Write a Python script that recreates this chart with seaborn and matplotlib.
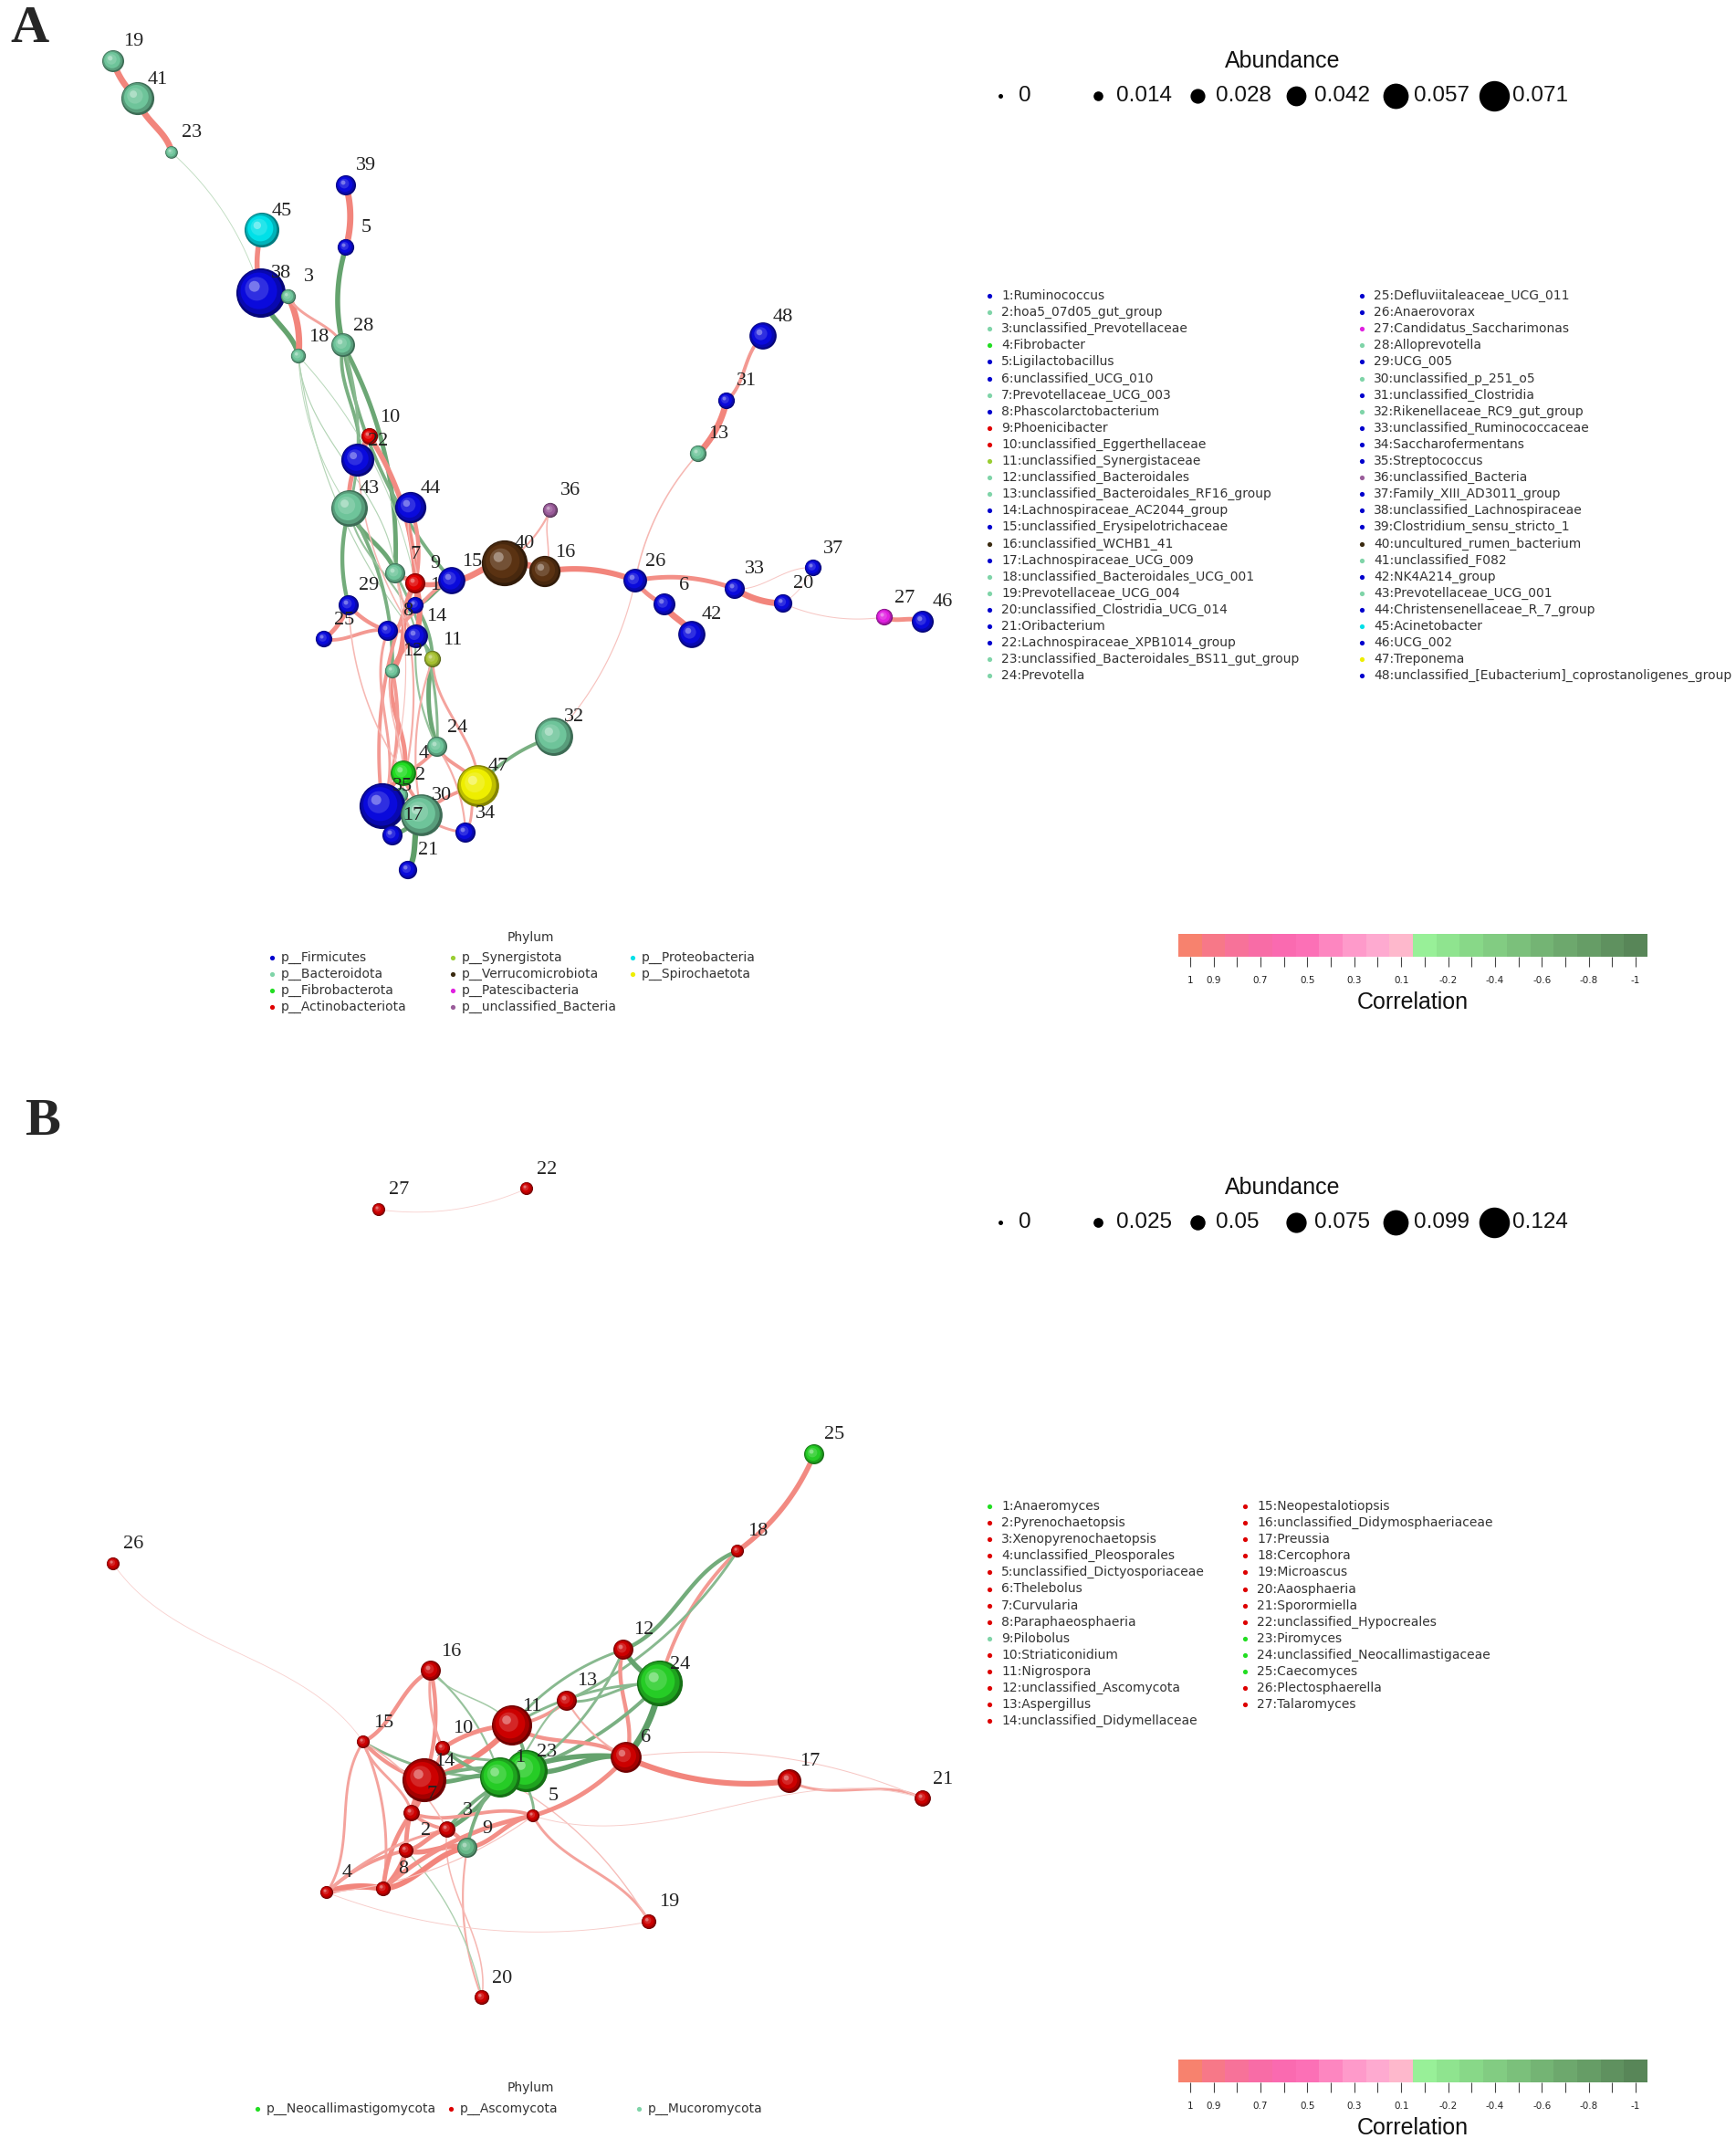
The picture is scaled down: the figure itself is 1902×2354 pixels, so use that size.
import numpy as np
import pandas as pd
import matplotlib
matplotlib.use("Agg")
import matplotlib.pyplot as plt
import seaborn as sns
from matplotlib import font_manager
from matplotlib.colors import ListedColormap, to_rgb

# ========== PANEL A : BACTERIA ==========
a_x = [455, 439, 316, 442, 379, 728, 433, 425, 455, 405, 474, 430, 765, 456, 495, 597, 430, 327, 124, 858,
       447, 392, 188, 479, 355, 696, 969, 376, 382, 462, 796, 607, 805, 510, 419, 603, 891, 286, 379, 553,
       151, 758, 383, 450, 287, 1011, 524, 836]
a_y = [663, 871, 325, 847, 271, 662, 628, 691, 639, 478, 722, 735, 497, 697, 636, 626, 915, 390, 67, 661,
       953, 504, 167, 818, 700, 636, 676, 378, 663, 893, 439, 807, 645, 912, 883, 559, 622, 321, 203, 617,
       108, 695, 557, 556, 252, 681, 861, 368]
a_abund = [0.016, 0.013, 0.013, 0.031, 0.016, 0.025, 0.022, 0.022, 0.022, 0.016, 0.016, 0.013, 0.016, 0.028,
           0.034, 0.041, 0.022, 0.013, 0.025, 0.019, 0.019, 0.044, 0.009, 0.022, 0.016, 0.028, 0.016, 0.028,
           0.022, 0.059, 0.016, 0.053, 0.022, 0.022, 0.066, 0.013, 0.016, 0.072, 0.022, 0.066, 0.044, 0.034,
           0.050, 0.041, 0.047, 0.025, 0.059, 0.034]
a_phylum = ['Fi', 'Ba', 'Ba', 'Fb', 'Fi', 'Fi', 'Ba', 'Fi', 'Ac', 'Ac', 'Sy', 'Ba', 'Ba', 'Fi', 'Fi', 'Ve',
            'Fi', 'Ba', 'Ba', 'Fi', 'Fi', 'Fi', 'Ba', 'Ba', 'Fi', 'Fi', 'Pa', 'Ba', 'Fi', 'Ba', 'Fi', 'Ba',
            'Fi', 'Fi', 'Fi', 'Ub', 'Fi', 'Fi', 'Fi', 'Ve', 'Ba', 'Fi', 'Ba', 'Fi', 'Pr', 'Fi', 'Sp', 'Fi']
a_taxa = ['Ruminococcus', 'hoa5_07d05_gut_group', 'unclassified_Prevotellaceae', 'Fibrobacter',
          'Ligilactobacillus', 'unclassified_UCG_010', 'Prevotellaceae_UCG_003', 'Phascolarctobacterium',
          'Phoenicibacter', 'unclassified_Eggerthellaceae', 'unclassified_Synergistaceae',
          'unclassified_Bacteroidales', 'unclassified_Bacteroidales_RF16_group', 'Lachnospiraceae_AC2044_group',
          'unclassified_Erysipelotrichaceae', 'unclassified_WCHB1_41', 'Lachnospiraceae_UCG_009',
          'unclassified_Bacteroidales_UCG_001', 'Prevotellaceae_UCG_004', 'unclassified_Clostridia_UCG_014',
          'Oribacterium', 'Lachnospiraceae_XPB1014_group', 'unclassified_Bacteroidales_BS11_gut_group',
          'Prevotella', 'Defluviitaleaceae_UCG_011', 'Anaerovorax', 'Candidatus_Saccharimonas',
          'Alloprevotella', 'UCG_005', 'unclassified_p_251_o5', 'unclassified_Clostridia',
          'Rikenellaceae_RC9_gut_group', 'unclassified_Ruminococcaceae', 'Saccharofermentans',
          'Streptococcus', 'unclassified_Bacteria', 'Family_XIII_AD3011_group', 'unclassified_Lachnospiraceae',
          'Clostridium_sensu_stricto_1', 'uncultured_rumen_bacterium', 'unclassified_F082', 'NK4A214_group',
          'Prevotellaceae_UCG_001', 'Christensenellaceae_R_7_group', 'Acinetobacter', 'UCG_002', 'Treponema',
          'unclassified_[Eubacterium]_coprostanoligenes_group']
a_edges = [(19, 41, 0.95), (41, 23, 0.95), (23, 38, -0.2), (45, 38, 0.85), (38, 18, -0.85), (3, 18, 0.95),
           (38, 3, 0.6), (3, 28, 0.6), (39, 5, 0.95), (5, 28, -0.85), (28, 22, -0.7), (28, 7, -0.8),
           (28, 15, -0.7), (18, 7, -0.3), (18, 9, -0.25), (18, 14, -0.3), (10, 22, 0.9), (10, 9, 0.85),
           (22, 43, 0.8), (43, 7, -0.8), (43, 12, -0.7), (43, 29, -0.75), (43, 14, -0.5), (44, 9, 0.75),
           (9, 15, 0.85), (15, 40, 0.95), (40, 16, 0.95), (40, 36, 0.5), (16, 36, 0.4), (16, 26, 0.9),
           (26, 6, 0.8), (6, 42, 0.95), (26, 33, 0.8), (33, 20, 0.95), (33, 37, 0.25), (37, 20, 0.2),
           (20, 27, 0.25), (27, 46, 0.8), (26, 13, 0.4), (13, 31, 0.95), (31, 48, 0.7), (26, 32, 0.3),
           (32, 47, -0.7), (47, 24, 0.7), (24, 11, -0.8), (11, 14, -0.7), (1, 15, -0.8), (1, 11, -0.7),
           (14, 12, 0.8), (12, 4, 0.8), (12, 35, 0.7), (9, 35, 0.7), (8, 35, 0.6), (29, 25, 0.8),
           (29, 8, 0.75), (25, 8, 0.7), (8, 14, 0.7), (1, 9, 0.85), (7, 9, 0.8), (24, 4, 0.7), (4, 35, 0.8),
           (4, 30, 0.7), (30, 47, 0.7), (30, 34, 0.6), (47, 34, 0.6), (24, 34, 0.5), (17, 30, -0.8),
           (30, 21, -0.9), (2, 30, 0.6), (35, 17, 0.6), (11, 47, 0.6), (7, 24, -0.6), (14, 24, -0.5),
           (9, 12, 0.85), (7, 2, 0.5), (29, 4, 0.4), (1, 44, 0.4), (28, 43, -0.6), (22, 14, 0.4),
           (15, 8, 0.7), (9, 14, 0.9), (11, 30, 0.5), (12, 2, 0.4), (7, 35, 0.3), (18, 43, -0.25)]
a_phyla_order = ['Fi', 'Ba', 'Fb', 'Ac', 'Sy', 'Ve', 'Pa', 'Ub', 'Pr', 'Sp']
a_phyla_names = ['p__Firmicutes', 'p__Bacteroidota', 'p__Fibrobacterota', 'p__Actinobacteriota',
                 'p__Synergistota', 'p__Verrucomicrobiota', 'p__Patescibacteria', 'p__unclassified_Bacteria',
                 'p__Proteobacteria', 'p__Spirochaetota']
a_node_colors = {'Fi': '#0A0ADC', 'Ba': '#6EC49A', 'Fb': '#22DD22', 'Ac': '#E00000', 'Sy': '#A5C030',
                 'Ve': '#5A3212', 'Pa': '#E020E0', 'Ub': '#9A5C9A', 'Pr': '#00E0E8', 'Sp': '#EEEE00'}
a_leg_colors = {'Fi': '#0000CD', 'Ba': '#7FD4A8', 'Fb': '#22DD22', 'Ac': '#E00000', 'Sy': '#9ACD32',
                'Ve': '#3A2A10', 'Pa': '#E020E0', 'Ub': '#9A5C9A', 'Pr': '#00E0E8', 'Sp': '#EEEE00'}
a_abund_levels = [0, 0.014, 0.028, 0.042, 0.057, 0.071]

# ========== PANEL B : FUNGI ==========
b_x = [548, 445, 490, 358, 584, 686, 451, 420, 512, 485, 561, 683, 621, 465, 398, 472, 865, 808, 711, 528,
       1011, 577, 577, 723, 892, 124, 415]
b_y = [1947, 2027, 2004, 2073, 1989, 1925, 1986, 2069, 2024, 1915, 1890, 1807, 1863, 1950, 1908, 1830, 1951,
       1699, 2105, 2188, 1970, 1302, 1940, 1844, 1593, 1713, 1325]
b_abund = [0.106, 0.024, 0.029, 0.018, 0.018, 0.076, 0.029, 0.024, 0.041, 0.024, 0.106, 0.041, 0.041, 0.118,
           0.018, 0.041, 0.053, 0.018, 0.024, 0.024, 0.029, 0.018, 0.112, 0.124, 0.041, 0.018, 0.018]
b_phylum = ['Ne', 'As', 'As', 'As', 'As', 'As', 'As', 'As', 'Mu', 'As', 'As', 'As', 'As', 'As', 'As', 'As',
            'As', 'As', 'As', 'As', 'As', 'As', 'Ne', 'Ne', 'Ne', 'As', 'As']
b_taxa = ['Anaeromyces', 'Pyrenochaetopsis', 'Xenopyrenochaetopsis', 'unclassified_Pleosporales',
          'unclassified_Dictyosporiaceae', 'Thelebolus', 'Curvularia', 'Paraphaeosphaeria', 'Pilobolus',
          'Striaticonidium', 'Nigrospora', 'unclassified_Ascomycota', 'Aspergillus',
          'unclassified_Didymellaceae', 'Neopestalotiopsis', 'unclassified_Didymosphaeriaceae', 'Preussia',
          'Cercophora', 'Microascus', 'Aaosphaeria', 'Sporormiella', 'unclassified_Hypocreales', 'Piromyces',
          'unclassified_Neocallimastigaceae', 'Caecomyces', 'Plectosphaerella', 'Talaromyces']
b_edges = [(27, 22, 0.15), (26, 15, 0.15), (25, 18, 0.85), (18, 24, 0.7), (18, 12, -0.75), (18, 13, -0.6),
           (12, 24, -0.85), (12, 6, 0.75), (24, 6, -0.95), (24, 11, -0.6), (24, 13, -0.6), (24, 1, -0.7),
           (12, 11, -0.6), (16, 15, 0.75), (16, 14, 0.75), (16, 10, 0.6), (16, 11, -0.4), (16, 1, -0.5),
           (15, 14, 0.75), (15, 4, 0.6), (15, 8, 0.6), (15, 1, -0.6), (15, 7, 0.6), (11, 14, 0.9),
           (11, 13, 0.7), (11, 6, 0.75), (11, 23, -0.7), (6, 17, 0.9), (17, 21, 0.6), (6, 21, 0.25),
           (6, 1, -0.85), (6, 23, -0.85), (14, 7, 0.85), (14, 2, 0.8), (14, 1, -0.8), (14, 23, -0.7),
           (10, 1, -0.7), (10, 23, -0.6), (4, 8, 0.95), (8, 2, 0.85), (2, 9, 0.85), (4, 2, 0.7), (7, 8, 0.8),
           (9, 5, 0.8), (3, 9, 0.75), (3, 1, -0.8), (5, 19, 0.6), (1, 19, 0.35), (9, 20, 0.5), (3, 20, 0.4),
           (2, 20, -0.35), (5, 6, 0.8), (8, 9, 0.9), (4, 3, 0.6), (13, 6, 0.5), (5, 23, -0.6), (3, 23, -0.7),
           (7, 3, 0.7), (2, 3, 0.8), (10, 14, 0.7), (11, 10, 0.8), (13, 1, -0.5), (12, 23, -0.6), (4, 5, 0.3),
           (7, 5, 0.7), (8, 5, 0.8), (1, 9, -0.7), (5, 21, 0.2), (15, 3, 0.4), (4, 19, 0.2)]
b_phyla_order = ['Ne', 'As', 'Mu']
b_phyla_names = ['p__Neocallimastigomycota', 'p__Ascomycota', 'p__Mucoromycota']
b_node_colors = {'Ne': '#26CC26', 'As': '#CC0000', 'Mu': '#66B888'}
b_leg_colors = {'Ne': '#22DD22', 'As': '#DD0000', 'Mu': '#7FD4A8'}
b_abund_levels = [0, 0.025, 0.05, 0.075, 0.099, 0.124]

# ========== CORRELATION SCALE ==========
cbar_levels = [1, 0.9, 0.8, 0.7, 0.6, 0.5, 0.4, 0.3, 0.2, 0.1,
               -0.1, -0.2, -0.3, -0.4, -0.5, -0.6, -0.7, -0.8, -0.9, -1]
cbar_shown = [1, 0.9, 0.7, 0.5, 0.3, 0.1, -0.2, -0.4, -0.6, -0.8, -1]
cbar_colors = ['#F7826E', '#F77888', '#F77299', '#F86CA6', '#FA6AB0', '#FC70B6', '#FD86C0', '#FE9ACA',
               '#FEAAD0', '#FEB8CC', '#98F098', '#8FE48F', '#88D888', '#82CC82', '#7BC07B', '#74B474',
               '#6DA86D', '#669D66', '#5F915F', '#588658']
# edge tint, weak -> strong
pos_edge = ('#F8D6D4', '#F2857C')
neg_edge = ('#CFE6CF', '#5E9E68')

# ========== STYLE ==========
sns.set_theme(style="white")
plt.rcParams['font.family'] = ['Liberation Sans', 'DejaVu Sans']
font_names = {f.name for f in font_manager.fontManager.ttflist}
NARROW = 'Liberation Sans Narrow' if 'Liberation Sans Narrow' in font_names else 'DejaVu Sans'
SMALL = 11.5 if NARROW != 'DejaVu Sans' else 10
SERIF = 'Liberation Serif' if 'Liberation Serif' in font_names else 'DejaVu Serif'
PX = 0.72  # points per pixel at dpi 100

shade_layers = [(1.00, 0.00, -0.45), (0.90, -0.04, -0.2), (0.74, -0.09, 0.0),
                (0.48, -0.17, 0.15), (0.22, -0.27, 0.45)]


def mix(c, m):
    c = np.array(to_rgb(c))
    if m > 0:
        return tuple(c + (1 - c) * m)
    return tuple(c * (1 + m))


def edge_color(r):
    lo, hi = pos_edge if r > 0 else neg_edge
    f = min(max((abs(r) - 0.1) / 0.8, 0), 1)
    lo, hi = np.array(to_rgb(lo)), np.array(to_rgb(hi))
    return tuple(lo + (hi - lo) * f)


def edge_curve(p0, p1, k):
    p0, p1 = np.asarray(p0, float), np.asarray(p1, float)
    d = p1 - p0
    perp = np.array([-d[1], d[0]])
    t = np.linspace(0, 1, 50)[:, None]
    if k % 3 == 1:
        c1 = p0 + d / 3 + 0.12 * perp
        c2 = p0 + 2 * d / 3 - 0.12 * perp
        return (1 - t) ** 3 * p0 + 3 * (1 - t) ** 2 * t * c1 + 3 * (1 - t) * t ** 2 * c2 + t ** 3 * p1
    sign = 1 if k % 3 == 0 else -1
    c = (p0 + p1) / 2 + sign * 0.14 * perp
    return (1 - t) ** 2 * p0 + 2 * (1 - t) * t * c + t ** 2 * p1


def draw_network(ax, tag, xs, ys, abund, phyla, edges, node_colors, rad):
    nodes = pd.DataFrame({'id': range(1, len(xs) + 1), 'x': xs, 'y': ys, 'abund': abund, 'phylum': phyla})
    nodes['r'] = rad(nodes['abund'])
    pos = nodes.set_index('id')

    # --- edges ---
    erows, ecol, ewid = [], {}, {}
    for k, (s, t, r) in enumerate(edges):
        key = f'{tag}e{k:03d}'
        pts = edge_curve(pos.loc[s, ['x', 'y']].values, pos.loc[t, ['x', 'y']].values, k)
        for px, py in pts:
            erows.append((key, px, py))
        ecol[key] = edge_color(r)
        ewid[key] = 0.6 + 6.0 * (abs(r) - 0.1) ** 2
    edf = pd.DataFrame(erows, columns=['edge', 'x', 'y'])
    sns.lineplot(data=edf, x='x', y='y', hue='edge', palette=ecol, size='edge', sizes=ewid,
                 estimator=None, sort=False, legend=False, ax=ax, zorder=1,
                 solid_capstyle='round')

    # --- nodes as shaded spheres ---
    lrows = []
    for _, n in nodes.sort_values('y').iterrows():
        for j, (sc, off, m) in enumerate(shade_layers):
            lrows.append(dict(key=f'{tag}n{n.id}-{j}', x=n.x + off * n.r, y=n.y + off * n.r,
                              color=mix(node_colors[n.phylum], m), s=(2 * n.r * sc * PX) ** 2))
    ldf = pd.DataFrame(lrows)
    sns.scatterplot(data=ldf, x='x', y='y', hue='key', palette=dict(zip(ldf.key, ldf.color)),
                    size='key', sizes=dict(zip(ldf.key, ldf.s)), linewidth=0, legend=False,
                    ax=ax, zorder=3)

    for _, n in nodes.iterrows():
        ax.text(n.x + 22, n.y - 21, str(n.id), fontsize=16, family=SERIF, color='#222222',
                ha='center', va='center', zorder=5)


def draw_abundance(ax, levels, y0, rad):
    dot_x = [1096, 1203, 1312, 1420, 1529, 1637]
    ax.text(1405, y0 - 38, 'Abundance', fontsize=18, ha='center', va='center', color='#111111')
    for xv, lv in zip(dot_x, levels):
        ax.scatter([xv], [y0], s=(2 * rad(lv) * PX) ** 2, color='black', linewidth=0, zorder=3)
        ax.text(xv + 20, y0, f'{lv:g}', fontsize=17.5, ha='left', va='center', color='#111111')


def draw_taxa_legend(ax, taxa, phyla, colors, col_x, per_col, y0):
    for i, (name, ph) in enumerate(zip(taxa, phyla)):
        c = i // per_col
        yy = y0 + (i % per_col) * 18.1
        ax.scatter([col_x[c]], [yy], s=14, color=colors[ph], linewidth=0, zorder=3)
        ax.text(col_x[c] + 13, yy, f'{i + 1}:{name}', fontsize=SMALL, family=NARROW,
                ha='left', va='center', color='#333333')


def draw_phylum_legend(ax, codes, names, colors, spots, title_xy):
    ax.text(title_xy[0], title_xy[1], 'Phylum', fontsize=SMALL, family=NARROW, ha='center', va='center',
            color='#333333')
    for code, name, (xx, yy) in zip(codes, names, spots):
        ax.scatter([xx], [yy], s=14, color=colors[code], linewidth=0, zorder=3)
        ax.text(xx + 10, yy, name, fontsize=SMALL, family=NARROW, ha='left', va='center', color='#333333')


def draw_colorbar(fig, ax, top):
    W, H = 1902, 2354
    cax = fig.add_axes([1291 / W, 1 - (top + 25) / H, 514 / W, 25 / H])
    sns.heatmap(np.arange(len(cbar_levels)).reshape(1, -1), cmap=ListedColormap(cbar_colors),
                cbar=False, ax=cax, xticklabels=False, yticklabels=False)
    cax.set_xticks(np.arange(len(cbar_levels)) + 0.5)
    cax.set_xticklabels([f'{v:g}' if v in cbar_shown else '' for v in cbar_levels],
                        fontsize=7.5, family=NARROW, rotation=0, color='#222222')
    cax.tick_params(axis='x', bottom=True, length=8, width=0.8, color='#444444', pad=7)
    ax.text(1548, top + 75, 'Correlation', fontsize=18, ha='center', va='center', color='#111111')


fig = plt.figure(figsize=(19.02, 23.54), dpi=100)
ax = fig.add_axes([0, 0, 1, 1])

rad_a = lambda a: 4 + 320 * np.asarray(a)
rad_b = lambda a: 4 + 170 * np.asarray(a)

draw_network(ax, 'A', a_x, a_y, a_abund, a_phylum, a_edges, a_node_colors, rad_a)
draw_network(ax, 'B', b_x, b_y, b_abund, b_phylum, b_edges, b_node_colors, rad_b)

draw_abundance(ax, a_abund_levels, 105, lambda a: 2.5 + 200 * a)
draw_abundance(ax, b_abund_levels, 1339, lambda a: 2.5 + 115 * a)

draw_taxa_legend(ax, a_taxa, a_phylum, a_leg_colors, [1084, 1492], 24, 324)
draw_taxa_legend(ax, b_taxa, b_phylum, b_leg_colors, [1084, 1364], 14, 1650)

a_spots = [(298, 1049), (298, 1067), (298, 1085), (298, 1103), (496, 1049), (496, 1067), (496, 1085),
           (496, 1103), (693, 1049), (693, 1067)]
draw_phylum_legend(ax, a_phyla_order, a_phyla_names, a_leg_colors, a_spots, (581, 1027))
b_spots = [(282, 2310), (494, 2310), (700, 2310)]
draw_phylum_legend(ax, b_phyla_order, b_phyla_names, b_leg_colors, b_spots, (581, 2287))

draw_colorbar(fig, ax, 1023)
draw_colorbar(fig, ax, 2256)

ax.text(32, 32, 'A', fontsize=42, fontweight='bold', family=SERIF, ha='center', va='center')
ax.text(46, 1229, 'B', fontsize=42, fontweight='bold', family=SERIF, ha='center', va='center')

ax.set_xlim(0, 1902)
ax.set_ylim(2354, 0)
ax.axis('off')

fig.savefig('out.png', dpi=100, facecolor='white')
